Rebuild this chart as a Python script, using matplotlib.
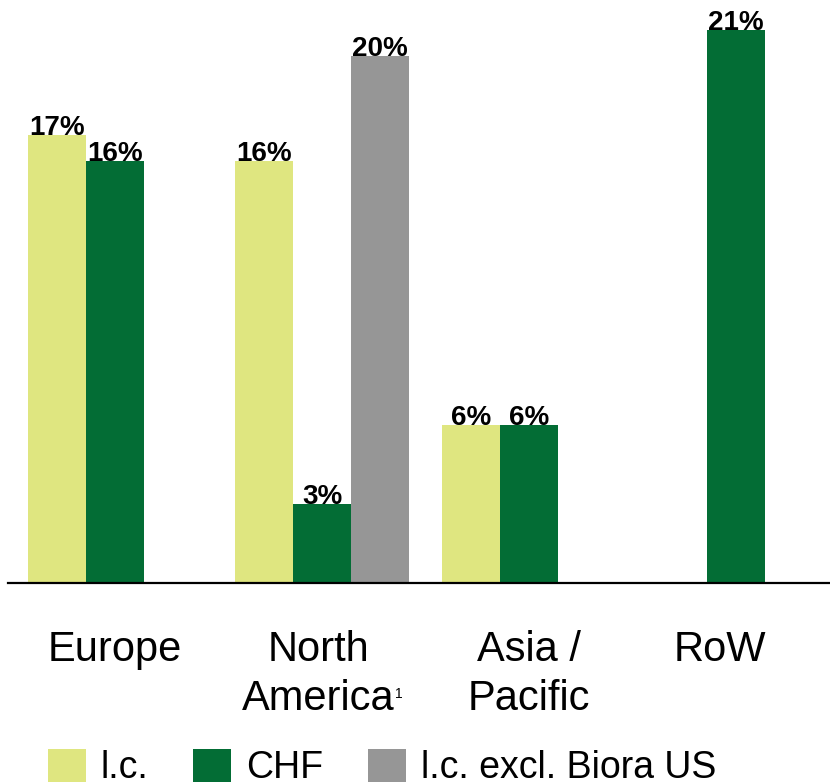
import numpy as np
import matplotlib
matplotlib.use('Agg')
import matplotlib.pyplot as plt
import matplotlib.transforms as mtransforms
from matplotlib.patches import Patch

plt.rcParams['font.family'] = ['Liberation Sans', 'DejaVu Sans']

## Data (growth in %):
categories = ['Europe', 'North\nAmerica', 'Asia /\nPacific', 'RoW']
footnote = '1'   # footnote mark on North America
lc = [17, 16, 6, np.nan]          # l.c.
chf = [16, 3, 6, 21]              # CHF
lc_excl = [np.nan, 20, np.nan, np.nan]  # l.c. excl. Biora US

series_names = ['l.c.', 'CHF', 'l.c. excl. Biora US']
colors = ['#dfe680', '#036d35', '#969696']

x = np.arange(len(categories))
w = 0.28

fig = plt.figure(figsize=(8.3, 7.84), dpi=100)
ax = fig.add_axes([8/830, 201/784, 1 - 8/830, 1 - 201/784])

# each series sits at its own offset in the group, missing values are skipped
for vals, off, col in zip([lc, chf, lc_excl], [-w, 0, w], colors):
    vals = np.array(vals, dtype=float)
    ok = ~np.isnan(vals)
    ax.bar(x[ok] + off, vals[ok], width=w, color=col, edgecolor='none')
    for xi, v in zip(x[ok] + off, vals[ok]):
        ax.text(xi, v, f'{v:.0f}%', ha='center', va='baseline',
                fontsize=20, fontweight='bold', color='black')

ax.set_xlim(-0.517, 3.454)
ax.set_ylim(0, 22.13)

ax.set_xticks(x)
ax.set_xticklabels(categories, fontsize=30, linespacing=1.29)
ax.tick_params(axis='x', length=0, pad=34)
ax.set_yticks([])
for s in ['top', 'right', 'left']:
    ax.spines[s].set_visible(False)
ax.spines['bottom'].set_linewidth(1.6)
ax.spines['bottom'].set_color('black')

labels = ax.get_xticklabels()
# RoW label sits a bit left of its bar in the original, NA a touch left too (room for footnote)
labels[-1].set_transform(labels[-1].get_transform() + mtransforms.ScaledTranslation(-0.16, 0, fig.dpi_scale_trans))
labels[1].set_transform(labels[1].get_transform() + mtransforms.ScaledTranslation(-0.04, 0, fig.dpi_scale_trans))

# small superscript footnote after "America"
ax.annotate(footnote, xy=(1, 0.5), xycoords=labels[1], xytext=(0.5, -8.5),
            textcoords='offset points', fontsize=10, ha='left', va='top')

handles = [Patch(facecolor=c, edgecolor='none') for c in colors]
fig.legend(handles, series_names, loc='lower left', bbox_to_anchor=(0.058, -0.003),
           ncol=3, frameon=False, fontsize=27, handlelength=1.0, handleheight=1.0,
           handletextpad=0.4, columnspacing=1.2, borderpad=0, borderaxespad=0)

plt.savefig('out.png', dpi=100)
